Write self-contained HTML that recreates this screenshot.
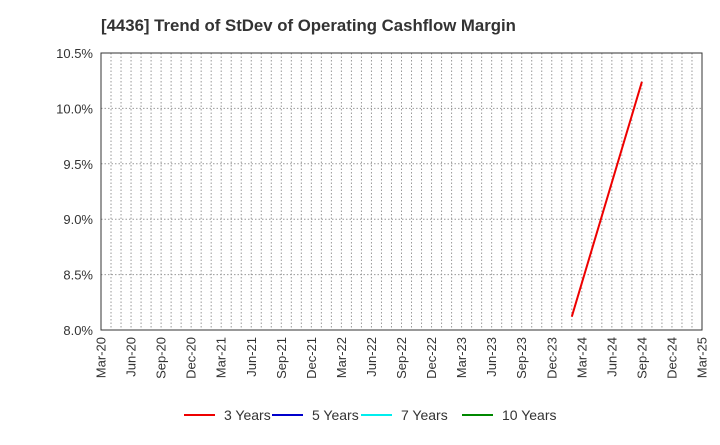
<!DOCTYPE html>
<html><head><meta charset="utf-8"><style>
body{margin:0;background:#fff;font-family:"Liberation Sans",sans-serif}
</style></head><body>
<svg width="720" height="440" xmlns="http://www.w3.org/2000/svg">
<text x="101" y="31" font-size="16.8" font-weight="bold" fill="#333">[4436]  Trend of StDev of Operating Cashflow Margin</text>
<g id="grid"></g>
<g id="axes"></g>
<g id="series"></g>
<g id="legend"></g>
</svg>
<script>
const yTicks=[8.0,8.5,9.0,9.5,10.0,10.5];
const xLabels=["Mar-20","Jun-20","Sep-20","Dec-20","Mar-21","Jun-21","Sep-21","Dec-21","Mar-22","Jun-22","Sep-22","Dec-22","Mar-23","Jun-23","Sep-23","Dec-23","Mar-24","Jun-24","Sep-24","Dec-24","Mar-25"];
// months since Mar-20
const s3Months=[47,54];
const s3Values=[8.12,10.24];
const legendNames=["3 Years","5 Years","7 Years","10 Years"];
const legendColors=["#e00","#00c","#0ee","#080"];
const L=101,R=702,T=53,B=330;
const X=m=>L+m*(R-L)/60;
const Y=v=>B-(v-8.0)/(10.5-8.0)*(B-T);
const ns="http://www.w3.org/2000/svg";
function mk(tag,attrs,parent,text){const e=document.createElementNS(ns,tag);for(const k in attrs)e.setAttribute(k,attrs[k]);if(text!==undefined)e.textContent=text;parent.appendChild(e);return e;}
const grid=document.getElementById('grid'),axes=document.getElementById('axes'),series=document.getElementById('series'),legend=document.getElementById('legend');
for(let m=1;m<60;m++){const l=mk('line',{x1:X(m),x2:X(m),y1:T,y2:B,stroke:'#999','stroke-dasharray':'1.5,2','stroke-width':1},grid);

}
yTicks.forEach(v=>{const l=mk('line',{x1:L,x2:R,y1:Y(v),y2:Y(v),stroke:'#999','stroke-dasharray':'1.5,2','stroke-width':1},grid);


const t=mk('text',{x:L-8,y:Y(v)+5,'text-anchor':'end','font-size':13,fill:'#333'},axes,v.toFixed(1)+'%');

});
const fr=mk('rect',{x:L,y:T,width:R-L,height:B-T,fill:'none',stroke:'#333','stroke-width':1},axes);


xLabels.forEach((s,i)=>{const x=X(i*3);const t=mk('text',{x:0,y:0,transform:`translate(${x+4.5},${B+7}) rotate(-90)`,'text-anchor':'end','font-size':13,fill:'#333'},axes,s);

});
const pts=s3Months.map((m,i)=>X(m)+','+Y(s3Values[i])).join(' ');
const pl=mk('polyline',{points:pts,fill:'none',stroke:'#e00','stroke-width':2},series);


const lx=[184,272,361,462];
legendNames.forEach((n,i)=>{const g=mk('g',{},legend);


mk('line',{x1:lx[i],x2:lx[i]+31,y1:415,y2:415,stroke:legendColors[i],'stroke-width':2},g);
mk('text',{x:lx[i]+40,y:420,'font-size':14,fill:'#333'},g,n);});
</script>
</body></html>
